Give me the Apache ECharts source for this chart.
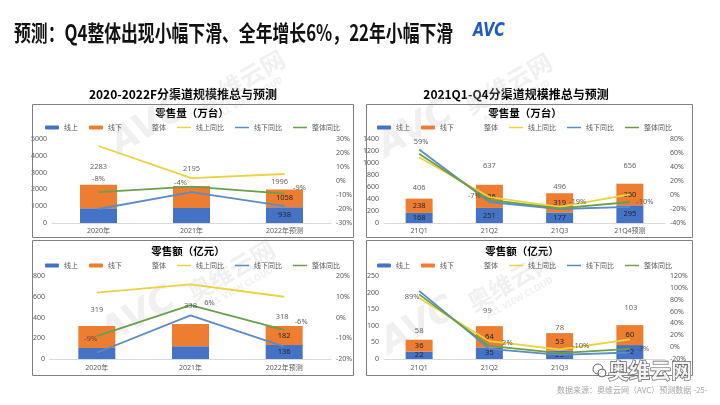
<!DOCTYPE html>
<html><head><meta charset="utf-8">
<script src="https://cdn.jsdelivr.net/npm/echarts@6/dist/echarts.min.js"></script>
<style>html,body{margin:0;padding:0;background:#fff}#c{width:720px;height:405px}</style>
</head><body><div id="c"></div>
<script>
// ---------- categories & legend ----------
const catsYear = ['2020年', '2021年', '2022年预测'];
const catsQuarter = ['21Q1', '21Q2', '21Q3', '21Q4预测'];
const legendNames = ['线上', '线下', '整体', '线上同比', '线下同比', '整体同比'];

// ---------- 零售量（万台） 2020-2022F ----------
const volYearOnline = [875, 893, 938];
const volYearOffline = [1408, 1302, 1058];
const volYearTotal = [2283, 2195, 1996];
const volYearOnlineYoY = [25, 2, 5];
const volYearOfflineYoY = [-20, -8, -18];
const volYearTotalYoY = [-8, -4, -9];

// ---------- 零售量（万台） 21Q1-Q4 ----------
const volQOnline = [168, 251, 177, 295];
const volQOffline = [238, 386, 319, 360];
const volQTotal = [406, 637, 496, 656];
const volQOnlineYoY = [54, -3, -17, 1];
const volQOfflineYoY = [65, -10, -20, -17];
const volQTotalYoY = [59, -7, -19, -10];

// ---------- 零售额（亿元） 2020-2022F ----------
const valYearOnline = [107, 124, 136];
const valYearOffline = [212, 214, 182];
const valYearTotal = [319, 338, 318];
const valYearOnlineYoY = [12, 16, 10];
const valYearOfflineYoY = [-17, 1, -14];
const valYearTotalYoY = [-9, 6, -6];

// ---------- 零售额（亿元） 21Q1-Q4 ----------
const valQOnline = [22, 35, 25, 42];
const valQOffline = [36, 64, 53, 60];
const valQTotal = [58, 99, 78, 103];
const valQOnlineYoY = [83, 10, -4, 13];
const valQOfflineYoY = [95, -3, -13, -9];
const valQTotalYoY = [89, 2, -10, -3];

// ---------- label styling (which inner labels show, label offsets) ----------
const yearInnerShow = [false, false, true];
const quarterInnerShow = [true, true, true, true];
const volYearTotalOff = [[0, -18], [0, -17], [-5, -8]];
const volYearYoYOff = [[0, -13], [-11, -4], [15, -6]];
const volQTotalOff = [[0, -11], [0, -19], [0, -6], [0, -18]];
const volQYoYOff = [[2, -12], [-15, -4], [18, -6], [15, 0]];
const valYearTotalOff = [[0, -16], [0, -18], [-2, -9]];
const valYearYoYOff = [[-6, 3], [19, -2], [17, -8]];
const valQTotalOff = [[0, -9], [-2, -15], [0, -5], [1, -17]];
const valQYoYOff = [[-7, 2], [18, -3], [21, -7], [13, 0]];

const FONT = "'Noto Sans','Noto Sans CJK SC',sans-serif";
const CJK = "'Noto Sans CJK SC',sans-serif";
const C_ON = '#4472C4', C_OFF = '#ED7D31', C_Y = '#EBD23F', C_B = '#5B8CC4', C_G = '#6A9F4B';
const LINE_ICON = 'path://M0,0H28V3H0Z';

const charts = [
  { cats: catsYear, on: volYearOnline, off: volYearOffline, tot: volYearTotal,
    onY: volYearOnlineYoY, offY: volYearOfflineYoY, totY: volYearTotalYoY,
    lMax: 5000, lInt: 1000, rMin: -30, rMax: 30, rInt: 10, bw: 37,
    inner: yearInnerShow, totOff: volYearTotalOff, yoyOff: volYearYoYOff,
    grid: { left: 52, top: 139, width: 279, height: 84 }, lg: { left: 45, top: 124 } },
  { cats: catsQuarter, on: volQOnline, off: volQOffline, tot: volQTotal,
    onY: volQOnlineYoY, offY: volQOfflineYoY, totY: volQTotalYoY,
    lMax: 1400, lInt: 200, rMin: -40, rMax: 80, rInt: 20, bw: 27,
    inner: quarterInnerShow, totOff: volQTotalOff, yoyOff: volQYoYOff,
    grid: { left: 384, top: 139, width: 281, height: 84 }, lg: { left: 377, top: 124 } },
  { cats: catsYear, on: valYearOnline, off: valYearOffline, tot: valYearTotal,
    onY: valYearOnlineYoY, offY: valYearOfflineYoY, totY: valYearTotalYoY,
    lMax: 800, lInt: 200, rMin: -20, rMax: 20, rInt: 10, bw: 37,
    inner: yearInnerShow, totOff: valYearTotalOff, yoyOff: valYearYoYOff,
    grid: { left: 50, top: 276, width: 281, height: 83 }, lg: { left: 45, top: 262 } },
  { cats: catsQuarter, on: valQOnline, off: valQOffline, tot: valQTotal,
    onY: valQOnlineYoY, offY: valQOfflineYoY, totY: valQTotalYoY,
    lMax: 250, lInt: 50, rMin: -20, rMax: 120, rInt: 20, bw: 27,
    inner: quarterInnerShow, totOff: valQTotalOff, yoyOff: valQYoYOff,
    grid: { left: 384, top: 276, width: 281, height: 83 }, lg: { left: 377, top: 262 } }
];

const option = { animation: false, grid: [], xAxis: [], yAxis: [], legend: [], series: [], graphic: [] };
const axLabel = { fontSize: 7, color: '#595959', fontFamily: FONT, margin: 5 };
const legendData = [
  { name: '线上', icon: 'roundRect' },
  { name: '线下', icon: 'roundRect' },
  { name: '整体', icon: 'rect', itemStyle: { color: 'rgba(0,0,0,0)' } },
  { name: '线上同比', icon: LINE_ICON },
  { name: '线下同比', icon: LINE_ICON },
  { name: '整体同比', icon: LINE_ICON }
];

charts.forEach((d, i) => {
  option.grid.push(Object.assign({ containLabel: false, outerBoundsMode: 'none' }, d.grid));
  option.xAxis.push({ type: 'category', gridIndex: i, data: d.cats,
    axisLine: { show: true, onZero: false, lineStyle: { color: '#d9d9d9', width: 1 } },
    axisTick: { show: false }, splitLine: { show: false },
    axisLabel: Object.assign({ interval: 0 }, axLabel) });
  option.yAxis.push({ type: 'value', gridIndex: i, min: 0, max: d.lMax, interval: d.lInt,
    axisLine: { show: false }, axisTick: { show: false }, splitLine: { show: false },
    axisLabel: Object.assign({ formatter: v => String(v), showMinLabel: true, showMaxLabel: true }, axLabel) });
  option.yAxis.push({ type: 'value', gridIndex: i, position: 'right', min: d.rMin, max: d.rMax, interval: d.rInt,
    axisLine: { show: false }, axisTick: { show: false }, splitLine: { show: false },
    axisLabel: Object.assign({ formatter: v => v + '%', showMinLabel: true, showMaxLabel: true }, axLabel) });
  option.legend.push({ left: d.lg.left, top: d.lg.top, orient: 'horizontal', data: legendData,
    itemWidth: 14, itemHeight: 4, itemGap: 11, selectedMode: false, padding: 0,
    textStyle: { fontSize: 7, color: '#595959', fontFamily: CJK } });
  const base = { xAxisIndex: i, silent: true };
  const innerLabel = { position: 'inside', color: '#262626', fontSize: 7.5, fontFamily: FONT };
  option.series.push(Object.assign({ type: 'bar', name: '线上', yAxisIndex: 2 * i, stack: 's' + i, barWidth: d.bw,
    itemStyle: { color: C_ON }, label: Object.assign({ show: false }, innerLabel),
    data: d.on.map((v, k) => ({ value: v, label: { show: d.inner[k] } })) }, base));
  option.series.push(Object.assign({ type: 'bar', name: '线下', yAxisIndex: 2 * i, stack: 's' + i, barWidth: d.bw,
    itemStyle: { color: C_OFF }, label: Object.assign({ show: false }, innerLabel),
    data: d.off.map((v, k) => ({ value: v, label: { show: d.inner[k] } })) }, base));
  option.series.push(Object.assign({ type: 'scatter', name: '整体', yAxisIndex: 2 * i, symbol: 'circle', symbolSize: 1, z: 6,
    itemStyle: { color: 'rgba(0,0,0,0)' },
    label: { show: true, position: 'inside', color: '#404040', fontSize: 7.5, fontFamily: FONT },
    data: d.tot.map((v, k) => ({ value: v, label: { offset: d.totOff[k] } })) }, base));
  [['线上同比', d.onY, C_Y], ['线下同比', d.offY, C_B], ['整体同比', d.totY, C_G]].forEach(([n, arr, c]) => {
    option.series.push(Object.assign({ type: 'line', name: n, yAxisIndex: 2 * i + 1, symbol: 'none', z: 4,
      lineStyle: { color: c, width: 1.8 }, itemStyle: { color: c }, data: arr }, base));
  });
  option.series.push(Object.assign({ type: 'scatter', name: '整体同比标签', yAxisIndex: 2 * i + 1, symbol: 'circle', symbolSize: 1, z: 7,
    itemStyle: { color: 'rgba(0,0,0,0)' },
    label: { show: true, position: 'inside', color: '#404040', fontSize: 7.5, fontFamily: FONT, formatter: p => p.value + '%' },
    data: d.totY.map((v, k) => ({ value: v, label: { offset: d.yoyOff[k] } })) }, base));
});

// ---------- slide decorations ----------
function txt(x, y, text, o) {
  return Object.assign({ type: 'text', x, y, silent: true, style: Object.assign({ text, fill: '#000', fontFamily: CJK, align: 'left', verticalAlign: 'middle' }, o.style || {}) }, o.el || {});
}
const G = option.graphic;
G.push(txt(14, 33, '预测：Q4整体出现小幅下滑、全年增长6%，22年小幅下滑', { style: { fontSize: 22, fontWeight: 'bold', fill: '#111' }, el: { scaleX: 0.765 } }));
G.push(txt(473, 31, 'AVC', { style: { fontSize: 20, fontWeight: 'bold', fontStyle: 'italic', fontFamily: "'DejaVu Sans',sans-serif", fill: '#1f5bc6' }, el: { scaleX: 0.72 } }));
G.push(txt(183, 94, '2020-2022F分渠道规模推总与预测', { style: { fontSize: 12, fontWeight: 'bold', align: 'center' } }));
G.push(txt(516, 94, '2021Q1-Q4分渠道规模推总与预测', { style: { fontSize: 12, fontWeight: 'bold', align: 'center' } }));
G.push(txt(192, 113, '零售量（万台）', { style: { fontSize: 10.5, fontWeight: 'bold', align: 'center' } }));
G.push(txt(525, 113, '零售量（万台）', { style: { fontSize: 10.5, fontWeight: 'bold', align: 'center' } }));
G.push(txt(188, 251, '零售额（亿元）', { style: { fontSize: 10.5, fontWeight: 'bold', align: 'center' } }));
G.push(txt(522, 251, '零售额（亿元）', { style: { fontSize: 10.5, fontWeight: 'bold', align: 'center' } }));
[[32, 104, 321, 133], [366, 104, 326, 133], [32, 240, 321, 135], [366, 240, 326, 135]].forEach(r => {
  G.push({ type: 'rect', silent: true, z: 1, shape: { x: r[0] + 0.5, y: r[1] + 0.5, width: r[2], height: r[3] },
    style: { fill: 'none', stroke: '#808080', lineWidth: 1 } });
});
// watermarks
const WM = 'rgba(200,200,200,0.28)';
function wm(x, y) {
  return { type: 'group', x, y, rotation: 0.52, z: 100, silent: true, children: [
    { type: 'text', x: 0, y: 0, style: { text: 'AVC', fontSize: 36, fontWeight: 'bold', fontStyle: 'italic', fontFamily: "'DejaVu Sans',sans-serif", fill: WM, verticalAlign: 'bottom' } },
    { type: 'text', x: 95, y: 0, style: { text: '奥维云网', fontSize: 24, fontWeight: 'bold', fontFamily: CJK, fill: WM, verticalAlign: 'bottom' } },
    { type: 'text', x: 104, y: 12, style: { text: 'ALL VIEW CLOUD', fontSize: 9, fontWeight: 'bold', fontFamily: FONT, fill: WM, verticalAlign: 'bottom' } }
  ] };
}
G.push(wm(113, 352), wm(123, 162), wm(393, 362), wm(390, 165));
G.push(txt(557, 390, '数据来源：奥维云网（AVC）预测数据 -25-', { style: { fontSize: 8, fill: '#a6a6a6' } }));
G.push({ type: 'circle', silent: true, z: 101, shape: { cx: 598, cy: 369, r: 5 }, style: { fill: 'rgba(255,255,255,0.8)', stroke: '#666', lineWidth: 1 } });
G.push({ type: 'circle', silent: true, z: 101, shape: { cx: 602, cy: 373, r: 4 }, style: { fill: 'rgba(255,255,255,0.8)', stroke: '#666', lineWidth: 1 } });
G.push(txt(608, 370, '奥维云网', { style: { fontSize: 21, fontWeight: 'bold', fill: 'rgba(250,250,250,0.9)', stroke: '#5a5a5a', lineWidth: 1.2 }, el: { z: 101 } }));

const chart = echarts.init(document.getElementById('c'), null, { renderer: 'canvas' });
chart.setOption(option);
</script>
</body></html>
